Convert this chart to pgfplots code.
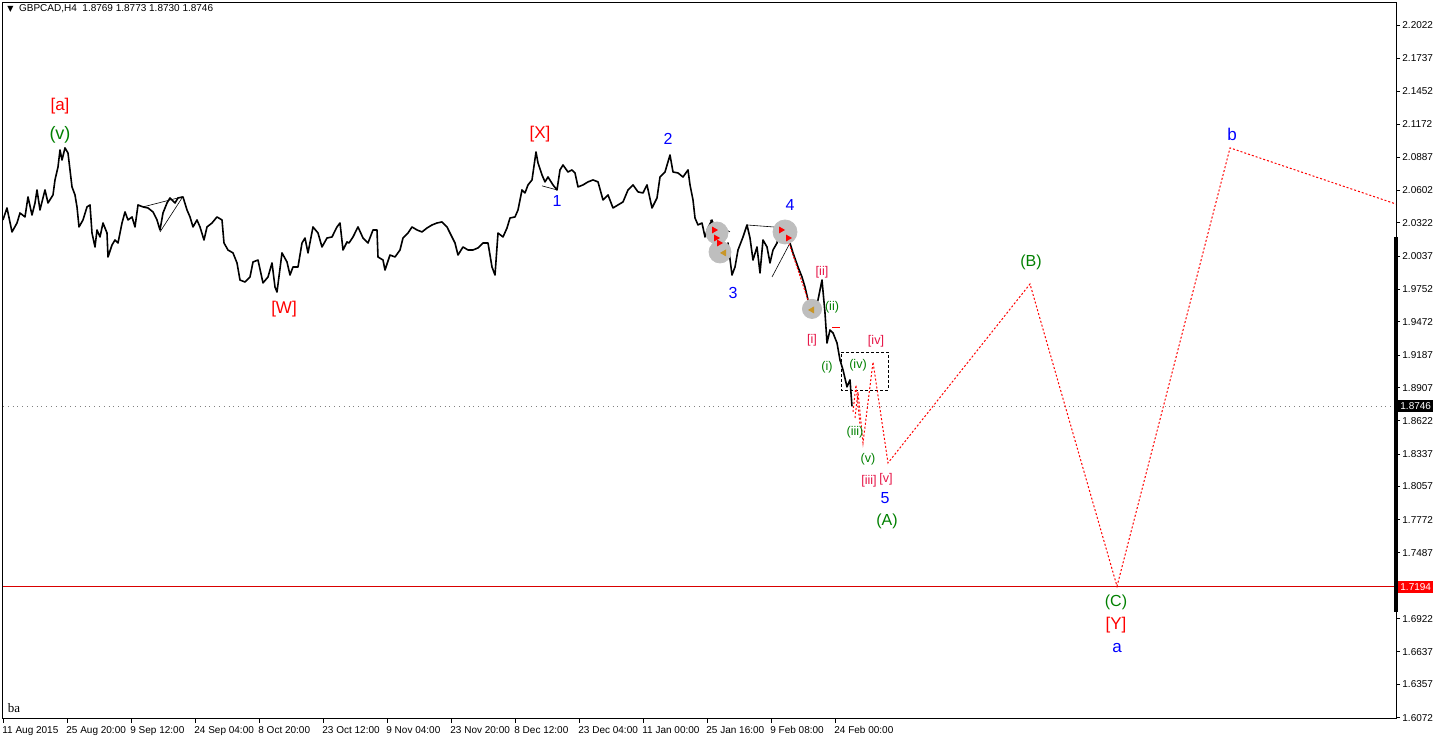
\documentclass[border=0pt]{standalone}
\usepackage{pgfplots}
\pgfplotsset{compat=1.18}
\usepackage{fontspec}
\setmainfont{Liberation Sans}
\newfontfamily\seriffont{Liberation Serif}
\newfontfamily\dejavu{DejaVu Sans}

\definecolor{ewred}{RGB}{255,0,0}
\definecolor{ewcrim}{RGB}{230,20,70}
\definecolor{ewgreen}{RGB}{0,128,0}
\definecolor{ewblue}{RGB}{0,0,255}
\definecolor{blob}{RGB}{190,190,190}
\definecolor{olivemark}{RGB}{200,150,40}

\begin{document}
\begin{tikzpicture}
\path[use as bounding box] (-1.5pt,-11.5pt) rectangle (716.5pt,359.5pt);
\begin{axis}[
    scale only axis,
    width=696.5pt, height=358pt,
    xmin=3, xmax=1396, ymin=1.6060, ymax=2.2211,
    clip=false,
    axis line style={line width=0.5pt},
    tick style={black, line width=0.4pt},
    tick align=outside,
    major tick length=2pt,
    xtick pos=left,
    ytick pos=right, yticklabel pos=right,
    xtick={3,67,131,195,259,323,387,451,515,579,643,707,771,835},
    xticklabels={11 Aug 2015, 25 Aug 20:00, 9 Sep 12:00, 24 Sep 04:00, 8 Oct 20:00, 23 Oct 12:00, 9 Nov 04:00, 23 Nov 20:00, 8 Dec 12:00, 23 Dec 04:00, 11 Jan 00:00, 25 Jan 16:00, 9 Feb 08:00, 24 Feb 00:00},
    xticklabel style={font=\fontsize{5}{6}\selectfont, anchor=north west, inner sep=0pt, xshift=-0.5pt, yshift=-1.5pt},
    ytick={2.2022,2.1737,2.1452,2.1172,2.0887,2.0602,2.0322,2.0037,1.9752,1.9472,1.9187,1.8907,1.8622,1.8337,1.8057,1.7772,1.7487,1.6922,1.6637,1.6357,1.6072},
    yticklabels={2.2022,2.1737,2.1452,2.1172,2.0887,2.0602,2.0322,2.0037,1.9752,1.9472,1.9187,1.8907,1.8622,1.8337,1.8057,1.7772,1.7487,1.6922,1.6637,1.6357,1.6072},
    yticklabel style={font=\fontsize{5}{6}\selectfont, anchor=west, inner sep=0pt, xshift=1pt},
]

% price levels
\addplot[gray, dotted, line width=0.4pt] coordinates {(3,1.8746) (1396,1.8746)};
\addplot[red!85!black, line width=0.5pt] coordinates {(3,1.7194) (1396,1.7194)};

% grey highlight blobs
\addplot[only marks, mark=*, mark size=5.5pt, color=blob] coordinates {(717,2.0235) (720,2.0072)};
\addplot[only marks, mark=*, mark size=6pt, color=blob] coordinates {(785,2.0244)};
\addplot[only marks, mark=*, mark size=4.8pt, color=blob] coordinates {(812,1.9583)};

% thin trend lines
\addplot[black, line width=0.3pt] coordinates {(143,2.0459) (182,2.0545)};
\addplot[black, line width=0.3pt] coordinates {(160,2.0244) (182,2.0536)};
\addplot[black, line width=0.3pt] coordinates {(542,2.0640) (557,2.0605)};
\addplot[black, line width=0.3pt] coordinates {(710,2.0347) (730,2.0244)};
\addplot[black, line width=0.3pt] coordinates {(747,2.0304) (787,2.0278)};
\addplot[black, line width=0.3pt] coordinates {(772,1.9857) (790,2.0149)};

% GBPCAD H4 close
\addplot[black, line width=0.8pt, line join=round] coordinates {
(3,2.0347) (7,2.0450) (12,2.0244) (17,2.0321) (20,2.0407) (25,2.0373)
(28,2.0545) (32,2.0390) (35,2.0493) (37,2.0605) (40,2.0433) (45,2.0605)
(48,2.0493) (53,2.0562) (55,2.0691) (58,2.0802) (60,2.0948) (62,2.0862)
(65,2.0966) (68,2.0922) (70,2.0777) (72,2.0631) (75,2.0562) (77,2.0459)
(79,2.0287) (83,2.0347) (87,2.0459) (90,2.0476) (92,2.0235) (95,2.0115)
(97,2.0261) (100,2.0201) (103,2.0321) (107,2.0235) (108,2.0029) (112,2.0132)
(115,2.0175) (118,2.0149) (122,2.0321) (125,2.0416) (128,2.0347) (132,2.0373)
(135,2.0287) (138,2.0476) (143,2.0459) (148,2.0450) (153,2.0416) (157,2.0347)
(160,2.0261) (163,2.0407) (167,2.0493) (170,2.0536) (175,2.0493) (178,2.0536)
(183,2.0545) (187,2.0433) (190,2.0373) (193,2.0287) (197,2.0347) (200,2.0287)
(204,2.0175) (207,2.0287) (212,2.0321) (217,2.0373) (222,2.0347) (224,2.0149)
(228,2.0089) (233,2.0064) (237,1.9978) (240,1.9831) (245,1.9814) (250,1.9857)
(253,1.9986) (258,2.0003) (263,1.9806) (268,1.9857) (272,1.9978) (275,1.9771)
(277,1.9728) (282,2.0064) (287,1.9986) (290,1.9874) (293,1.9943) (298,1.9943)
(302,2.0149) (305,2.0192) (308,2.0064) (313,2.0287) (318,2.0235) (322,2.0115)
(327,2.0192) (332,2.0201) (337,2.0287) (340,2.0321) (343,2.0089) (347,2.0158)
(349,2.0149) (353,2.0201) (358,2.0287) (363,2.0192) (368,2.0149) (373,2.0261)
(377,2.0261) (378,2.0029) (383,2.0003) (385,1.9917) (390,2.0046) (395,2.0029)
(400,2.0089) (403,2.0192) (408,2.0235) (412,2.0287) (417,2.0261) (422,2.0244)
(427,2.0278) (432,2.0304) (437,2.0321) (442,2.0330) (447,2.0287) (450,2.0235)
(455,2.0149) (458,2.0046) (463,2.0115) (468,2.0089) (473,2.0089) (478,2.0107)
(483,2.0149) (488,2.0149) (492,1.9943) (495,1.9874) (498,2.0235) (503,2.0201)
(507,2.0278) (510,2.0364) (515,2.0373) (518,2.0433) (522,2.0605) (525,2.0579)
(528,2.0648) (532,2.0691) (533,2.0751) (536,2.0931) (538,2.0837) (542,2.0734)
(545,2.0674) (548,2.0716) (553,2.0648) (557,2.0605) (560,2.0777) (563,2.0819)
(568,2.0759) (572,2.0777) (575,2.0751) (578,2.0631) (583,2.0648) (588,2.0674)
(593,2.0691) (598,2.0674) (603,2.0519) (608,2.0562) (613,2.0450) (618,2.0476)
(623,2.0502) (628,2.0605) (633,2.0648) (638,2.0588) (643,2.0579) (647,2.0648)
(652,2.0450) (657,2.0536) (660,2.0716) (665,2.0759) (670,2.0905) (673,2.0759)
(678,2.0751) (683,2.0716) (688,2.0777) (690,2.0648) (693,2.0519) (695,2.0364)
(698,2.0304) (702,2.0321) (705,2.0201) (708,2.0278) (712,2.0347) (713,2.0175)
(717,2.0115) (722,2.0149) (725,2.0089) (728,2.0149) (732,1.9874) (735,1.9943)
(738,2.0089) (743,2.0201) (747,2.0304) (750,2.0192) (753,2.0003) (757,2.0115)
(760,1.9892) (763,2.0175) (767,2.0115) (770,1.9978) (773,2.0089) (777,2.0149)
(780,2.0278) (783,2.0201) (787,2.0287) (790,2.0149) (793,2.0064) (798,1.9943)
(802,1.9857) (805,1.9771) (808,1.9660) (812,1.9514) (815,1.9600) (818,1.9660)
(822,1.9831) (825,1.9548) (827,1.9290) (830,1.9402) (833,1.9377) (837,1.9290)
(840,1.9144) (843,1.9059) (847,1.8913) (850,1.8973) (852,1.8746)
};

% markers inside the blobs
\addplot[only marks, mark=triangle*, mark size=1.6pt, mark options={rotate=-90}, color=red]
  coordinates {(714,2.0261) (716,2.0192) (719,2.0149) (781,2.0261) (788,2.0192)};
\addplot[only marks, mark=triangle*, mark size=1.6pt, mark options={rotate=90}, color=olivemark]
  coordinates {(724,2.0064) (812,1.9574)};

% red dashed along the fall from 4
\addplot[ewred, dash pattern=on 1pt off 0.8pt, line width=0.5pt] coordinates {(788,2.0175) (812,1.9557)};
\addplot[ewred, line width=0.5pt] coordinates {(832,1.9419) (840,1.9419)};

% dashed box
\addplot[black, dash pattern=on 1.5pt off 1pt, line width=0.4pt]
  coordinates {(841,1.9213) (888,1.9213) (888,1.8887) (841,1.8887) (841,1.9213)};

% projected path
\addplot[ewred, dash pattern=on 1pt off 1pt, line width=0.5pt]
  coordinates {(853,1.8698) (856,1.8930) (860,1.8586)};
\addplot[ewred, dash pattern=on 1pt off 1pt, line width=0.5pt]
  coordinates {(855,1.8646) (858,1.8870) (863,1.8431) (873,1.9127) (888,1.8260)
               (1030,1.9797) (1117,1.7200) (1230,2.0966) (1396,2.0484)};

% price scale marker
\draw[black, line width=1.6pt] (axis cs:1396,2.0201) -- (axis cs:1396,1.6980);
\node[anchor=west, xshift=1pt, fill=black, text=white, inner xsep=1pt, inner ysep=0pt,
      minimum height=6pt, font=\fontsize{5}{6}\selectfont] at (axis cs:1396,1.8746) {1.8746};
\node[anchor=west, xshift=1pt, fill=red, text=white, inner xsep=1pt, inner ysep=0pt,
      minimum height=6pt, font=\fontsize{5}{6}\selectfont] at (axis cs:1396,1.7194) {1.7194};

% header and corner text
\node[anchor=west, inner sep=0pt, font=\fontsize{5}{6}\selectfont] at (axis cs:7,2.2160)
  {{\dejavu\fontsize{4}{5}\selectfont ▼}\ \ GBPCAD,H4\ \ 1.8769 1.8773 1.8730 1.8746};
\node[inner sep=0pt, font=\seriffont\fontsize{6.5}{7}\selectfont] at (axis cs:14,1.6155) {ba};

% wave labels
\node[text=ewred, font=\fontsize{8.5}{9}\selectfont] at (axis cs:60,2.1326) {[a]};
\node[text=ewgreen, font=\fontsize{9}{10}\selectfont] at (axis cs:60,2.1077) {(v)};
\node[text=ewred, font=\fontsize{8.5}{9}\selectfont] at (axis cs:284,1.9583) {[W]};
\node[text=ewred, font=\fontsize{8.5}{9}\selectfont] at (axis cs:540,2.1086) {[X]};
\node[text=ewblue, font=\fontsize{8}{9}\selectfont] at (axis cs:557,2.0510) {1};
\node[text=ewblue, font=\fontsize{8}{9}\selectfont] at (axis cs:668,2.1043) {2};
\node[text=ewblue, font=\fontsize{8}{9}\selectfont] at (axis cs:733,1.9720) {3};
\node[text=ewblue, font=\fontsize{8}{9}\selectfont] at (axis cs:790,2.0476) {4};
\node[text=ewcrim, font=\fontsize{6.3}{7}\selectfont] at (axis cs:822,1.9900) {[ii]};
\node[text=ewgreen, font=\fontsize{6.3}{7}\selectfont] at (axis cs:832,1.9600) {(ii)};
\node[text=ewcrim, font=\fontsize{6.3}{7}\selectfont] at (axis cs:812,1.9316) {[i]};
\node[text=ewgreen, font=\fontsize{6.3}{7}\selectfont] at (axis cs:827,1.9084) {(i)};
\node[text=ewcrim, font=\fontsize{6.3}{7}\selectfont] at (axis cs:876,1.9308) {[iv]};
\node[text=ewgreen, font=\fontsize{6.3}{7}\selectfont] at (axis cs:858,1.9101) {(iv)};
\node[text=ewgreen, font=\fontsize{6.3}{7}\selectfont] at (axis cs:855,1.8526) {(iii)};
\node[text=ewgreen, font=\fontsize{6.3}{7}\selectfont] at (axis cs:868,1.8294) {(v)};
\node[text=ewcrim, font=\fontsize{6.3}{7}\selectfont] at (axis cs:869,1.8105) {[iii]};
\node[text=ewcrim, font=\fontsize{6.3}{7}\selectfont] at (axis cs:886,1.8122) {[v]};
\node[text=ewblue, font=\fontsize{8}{9}\selectfont] at (axis cs:885,1.7959) {5};
\node[text=ewgreen, font=\fontsize{8}{9}\selectfont] at (axis cs:887,1.7761) {(A)};
\node[text=ewgreen, font=\fontsize{8}{9}\selectfont] at (axis cs:1031,1.9986) {(B)};
\node[text=ewblue, font=\fontsize{8.5}{9}\selectfont] at (axis cs:1232,2.1086) {b};
\node[text=ewgreen, font=\fontsize{8}{9}\selectfont] at (axis cs:1116,1.7066) {(C)};
\node[text=ewred, font=\fontsize{8.5}{9}\selectfont] at (axis cs:1116,1.6868) {[Y]};
\node[text=ewblue, font=\fontsize{8.5}{9}\selectfont] at (axis cs:1117,1.6670) {a};

\end{axis}
\end{tikzpicture}
\end{document}
